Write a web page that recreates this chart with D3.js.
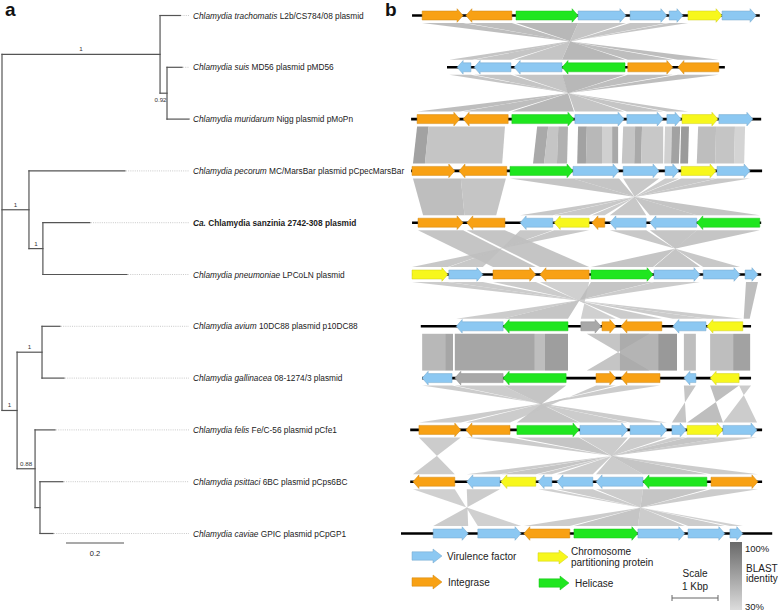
<!DOCTYPE html>
<html><head><meta charset="utf-8">
<script src="https://cdn.jsdelivr.net/npm/d3@7"></script>
<style>body{margin:0;background:#fff}svg{display:block}text{font-family:"Liberation Sans",Arial,sans-serif;fill:#222}</style>
</head><body>
<svg id="c" width="778" height="611"></svg>
<script>
// ---------- DATA ----------
const taxonItalic = ["Chlamydia trachomatis","Chlamydia suis","Chlamydia muridarum","Chlamydia pecorum","Ca.","Chlamydia pneumoniae","Chlamydia avium","Chlamydia gallinacea","Chlamydia felis","Chlamydia psittaci","Chlamydia caviae"];
const taxonRest = [" L2b/CS784/08 plasmid"," MD56 plasmid pMD56"," Nigg plasmid pMoPn"," MC/MarsBar plasmid pCpecMarsBar"," Chlamydia sanzinia 2742-308 plasmid"," LPCoLN plasmid"," 10DC88 plasmid p10DC88"," 08-1274/3 plasmid"," Fe/C-56 plasmid pCfe1"," 6BC plasmid pCps6BC"," GPIC plasmid pCpGP1"];
const boldTaxon = 4;

// tree: branch lengths (substitutions/site), support values
const tree = {len:0, children:[
  {len:0.545, support:"1", children:[
    {len:0.07, leaf:0},
    {len:0.024, support:"0.92", children:[{len:0.052, leaf:1},{len:0.076, leaf:2}]}
  ]},
  {len:0.093, support:"1", children:[
    {len:0.331, leaf:3},
    {len:0.048, support:"1", children:[{len:0.162, leaf:4},{len:0.29, leaf:5}]}
  ]},
  {len:0.052, support:"1", children:[
    {len:0.086, support:"1", children:[{len:0.062, leaf:6},{len:0.076, leaf:7}]},
    {len:0.062, support:"0.88", children:[{len:0.069, leaf:8},
      {len:0.017, children:[{len:0.079, leaf:9},{len:0.045, leaf:10}]}]}
  ]}
]};
const treeScaleBar = 0.2;

// plasmid extents (kb, aligned)
const trackStart = [0.24,1.00,0.22,0.22,0.24,0.24,0.43,0.46,0.20,0.20,0.00];
const trackEnd   = [7.80,7.04,7.83,7.85,7.83,7.83,7.61,7.61,7.85,7.85,8.07];

// genes: [start kb, end kb, strand, type]  V=virulence I=integrase C=chromosome partitioning H=helicase O=other
const trackGenes = [
 [[0.46,1.35,1,"I"],[1.41,2.41,-1,"I"],[2.50,3.85,1,"H"],[3.85,4.89,1,"V"],[4.98,5.78,1,"V"],[5.83,6.13,1,"V"],[6.24,6.98,1,"C"],[6.98,7.72,1,"V"]],
 [[1.22,1.52,-1,"V"],[1.59,2.39,-1,"V"],[2.46,3.50,-1,"V"],[3.50,4.87,-1,"H"],[4.93,5.91,1,"I"],[6.02,6.91,-1,"I"]],
 [[0.35,1.28,1,"I"],[1.35,2.33,-1,"I"],[2.41,3.76,1,"H"],[3.78,4.85,1,"V"],[4.91,5.70,1,"V"],[5.78,6.09,1,"V"],[6.11,6.89,1,"C"],[6.91,7.65,1,"V"]],
 [[0.24,1.17,1,"I"],[1.26,2.30,-1,"I"],[2.37,3.74,1,"H"],[3.74,4.74,1,"V"],[4.83,5.61,1,"V"],[5.74,6.04,1,"V"],[6.09,6.85,1,"C"],[6.87,7.59,1,"V"]],
 [[0.37,1.35,1,"I"],[1.43,2.26,-1,"I"],[2.59,3.30,-1,"V"],[3.33,4.09,-1,"C"],[4.15,4.43,-1,"I"],[4.54,5.33,-1,"V"],[5.41,6.43,-1,"V"],[6.43,7.80,-1,"H"]],
 [[0.24,1.02,1,"C"],[1.04,1.78,1,"V"],[2.00,2.93,1,"I"],[3.02,4.09,-1,"I"],[4.13,5.48,1,"H"],[5.50,6.50,1,"V"],[6.57,7.37,1,"V"],[7.48,7.76,1,"V"]],
 [[1.20,2.22,-1,"V"],[2.22,3.63,-1,"H"],[3.91,4.35,1,"O"],[4.37,4.67,1,"I"],[4.78,5.67,-1,"I"],[5.91,6.63,-1,"V"],[6.65,7.43,-1,"C"]],
 [[0.46,1.11,-1,"V"],[1.17,2.22,-1,"O"],[2.22,3.59,-1,"H"],[4.24,4.67,1,"I"],[4.78,5.63,-1,"I"],[6.15,6.41,-1,"V"],[6.72,7.35,-1,"C"]],
 [[0.39,1.30,1,"I"],[1.41,2.37,-1,"I"],[2.52,3.87,1,"H"],[3.89,4.93,1,"V"],[4.98,5.78,1,"V"],[5.89,6.20,1,"V"],[6.22,7.00,1,"C"],[7.00,7.74,1,"V"]],
 [[0.26,1.17,-1,"I"],[1.43,2.15,-1,"V"],[2.17,2.93,-1,"C"],[2.98,3.28,-1,"V"],[3.39,4.17,-1,"V"],[4.24,5.26,-1,"V"],[5.26,6.65,-1,"H"],[6.74,7.76,1,"I"]],
 [[0.70,1.46,1,"V"],[1.67,2.61,1,"V"],[2.67,3.67,-1,"I"],[3.76,5.15,1,"H"],[5.15,6.17,1,"V"],[6.24,7.04,1,"V"],[7.15,7.43,1,"V"]]
];

// BLAST hits between neighbouring plasmids: [top start, top end, bottom start, bottom end, identity]
const blastHits = [
 [[0.46,1.35,6.91,6.02,0.55],[1.41,2.41,5.91,4.93,0.55],[2.50,3.85,4.87,3.50,0.6],[3.85,4.89,3.50,2.46,0.5],[4.98,5.78,2.39,1.59,0.5],[5.83,6.24,1.55,1.05,0.5]],
 [[1.05,1.52,6.24,5.78,0.5],[1.59,2.39,5.70,4.91,0.5],[2.46,3.50,4.85,3.78,0.5],[3.50,4.87,3.76,2.41,0.6],[4.93,5.91,2.33,1.35,0.55],[6.02,6.91,1.28,0.35,0.55]],
 [[0.35,0.60,0.26,0.52,0.75],[0.60,2.26,0.52,2.20,0.5],[2.96,3.20,2.87,3.11,0.7],[3.20,3.42,3.11,3.39,0.5],[3.42,3.63,3.39,3.61,0.65],
  [3.85,4.04,3.83,4.02,0.75],[4.04,4.37,4.02,4.37,0.6],[4.37,4.59,4.37,4.59,0.42],[4.59,4.72,4.59,4.72,0.7],
  [4.83,5.09,4.80,5.07,0.5],[5.09,5.24,5.07,5.22,0.7],[5.24,5.70,5.22,5.70,0.48],
  [5.74,5.89,5.72,5.87,0.42],[5.89,6.07,5.87,6.04,0.75],[6.09,6.26,6.07,6.24,0.8],
  [6.46,6.85,6.43,6.83,0.55],[6.85,7.26,6.83,7.24,0.5],[7.26,7.48,7.24,7.46,0.4]],
 [[0.26,1.30,0.48,1.38,0.55],[1.30,2.28,1.38,2.07,0.5],[2.37,3.74,7.80,6.43,0.5],[3.74,4.74,6.43,5.41,0.5],[4.83,5.61,5.33,4.54,0.48],[5.74,6.04,4.43,4.15,0.45],[6.09,6.85,4.09,3.33,0.48],[6.87,7.59,3.30,2.59,0.48]],
 [[0.37,1.35,2.00,2.93,0.5],[1.43,2.26,3.02,4.09,0.5],[2.59,3.30,1.78,1.04,0.48],[3.33,4.09,1.02,0.24,0.48],[4.54,5.33,7.37,6.57,0.48],[5.41,6.43,6.50,5.50,0.5],[6.43,7.80,5.48,4.13,0.5]],
 [[0.24,1.02,7.43,6.65,0.45],[1.04,1.78,6.63,5.91,0.45],[2.00,2.93,5.67,4.78,0.45],[3.02,4.09,4.67,3.91,0.42],[4.13,5.48,3.63,2.22,0.5],[5.50,6.50,2.22,1.20,0.45],[7.50,7.76,7.45,7.58,0.55]],
 [[0.46,0.96,0.46,0.96,0.6],[0.96,1.13,0.96,1.13,0.72],[1.17,2.91,1.17,2.91,0.72],[2.91,3.13,2.91,3.13,0.55],[3.13,3.63,3.13,3.63,0.78],
  [4.04,5.40,5.40,4.04,0.5],[4.76,5.59,4.76,5.59,0.62],[5.59,6.00,5.59,6.00,0.82],[6.15,6.41,6.15,6.41,0.55],[6.72,7.22,6.72,7.22,0.55],[7.22,7.59,7.22,7.59,0.75]],
 [[0.46,1.11,5.78,4.98,0.45],[1.17,2.22,4.93,3.89,0.45],[2.22,3.59,3.87,2.52,0.5],[4.24,4.67,2.37,1.41,0.45],[4.78,5.63,1.30,0.39,0.45],[6.15,6.41,6.20,5.89,0.5],[6.72,7.35,7.00,6.22,0.55],[7.35,7.61,7.74,7.00,0.45]],
 [[0.39,1.30,1.17,0.26,0.45],[1.41,2.37,7.76,6.74,0.45],[2.52,3.87,6.65,5.26,0.5],[3.89,4.93,5.26,4.24,0.45],[4.98,5.78,4.17,3.39,0.45],[5.89,6.20,3.28,2.98,0.45],[6.22,7.00,2.93,2.17,0.5],[7.00,7.74,2.15,1.43,0.45]],
 [[0.26,1.17,2.61,1.67,0.42],[1.43,2.15,1.46,0.70,0.45],[2.98,3.28,7.43,7.15,0.42],[3.39,4.17,7.04,6.24,0.45],[4.24,5.26,6.17,5.15,0.45],[5.26,6.65,5.15,3.76,0.5],[6.74,7.76,3.67,2.67,0.45]]
];

const geneTypes = ["V","I","C","H"];
const geneTypeNames = {V:"Virulence factor", I:"Integrase", C:["Chromosome","partitioning protein"], H:"Helicase"};
const geneColors = {V:"#8cc8f2", I:"#f8a114", C:"#f7f71c", H:"#1fe61f", O:"#a8a8a8"};
const identityRange = [0.3, 1.0];
const identityLabels = ["100%","30%"];
const scaleBarKb = 1;

// ---------- DRAW ----------
const svg = d3.select("#c");
const rowY = d3.scaleLinear().domain([0,10]).range([15.5,533.5]);
const treeX = d3.scaleLinear().domain([0,treeScaleBar]).range([2,60]);
const kbX = d3.scaleLinear().domain([0,1]).range([401,447]);
const idColor = d3.scaleLinear().domain(identityRange).range(["#dcdcdc","#696969"]);

// panel letters
svg.append("text").attr("x",5).attr("y",16).attr("font-size",19).attr("font-weight","bold").style("fill","#111").text("a");
svg.append("text").attr("x",385).attr("y",16).attr("font-size",19).attr("font-weight","bold").style("fill","#111").text("b");

// ---- tree ----
const root = d3.hierarchy(tree);
root.eachBefore(n => { n.dl = n.parent ? n.parent.dl + n.data.len : 0; });
root.eachAfter(n => {
  if (n.children) n.y = (n.children[0].y + n.children[n.children.length-1].y)/2;
  else n.y = rowY(n.data.leaf);
});
const gT = svg.append("g").attr("stroke","#555").attr("stroke-width",1.2).attr("stroke-linecap","square");
root.descendants().forEach(n => {
  if (n.parent) gT.append("line").attr("x1",treeX(n.parent.dl)).attr("x2",treeX(n.dl)).attr("y1",n.y).attr("y2",n.y);
  if (n.children) gT.append("line").attr("x1",treeX(n.dl)).attr("x2",treeX(n.dl))
      .attr("y1",n.children[0].y).attr("y2",n.children[n.children.length-1].y);
});
// dotted leaders
root.leaves().forEach(n => {
  svg.append("line").attr("x1",treeX(n.dl)+1).attr("x2",189).attr("y1",n.y).attr("y2",n.y)
    .attr("stroke","#bbb").attr("stroke-width",0.8).attr("stroke-dasharray","1,1.2");
});
// supports
root.descendants().filter(n => n.data.support).forEach(n => {
  const x0 = treeX(n.parent.dl), x1 = treeX(n.dl);
  const short = (x1-x0) < 12;
  svg.append("text").attr("x",(x0+x1)/2 + (short?-3:0)).attr("y", short ? n.y+9 : n.y-3)
    .attr("text-anchor","middle").attr("font-size",6.2).style("fill","#333").text(n.data.support);
});
// leaf labels
root.leaves().forEach(n => {
  const i = n.data.leaf;
  const t = svg.append("text").attr("x",193).attr("y",n.y+3).attr("font-size",8.3);
  if (i === boldTaxon) t.attr("font-weight","bold");
  t.append("tspan").attr("font-style","italic").text(taxonItalic[i]);
  t.append("tspan").text(taxonRest[i]);
});
// tree scale bar
const sbx = 66;
svg.append("line").attr("x1",sbx).attr("x2",sbx + treeX(treeScaleBar)-treeX(0)).attr("y1",543).attr("y2",543)
  .attr("stroke","#555").attr("stroke-width",1.2);
svg.append("text").attr("x",sbx + (treeX(treeScaleBar)-treeX(0))/2).attr("y",556).attr("text-anchor","middle")
  .attr("font-size",7.5).text(String(treeScaleBar));

// ---- BLAST bands ----
const gB = svg.append("g");
blastHits.forEach((hits, p) => {
  const yT = rowY(p) + 7.5, yB = rowY(p+1) - 7.5;
  hits.forEach(h => {
    const [t1,t2,b1,b2,id] = h;
    gB.append("path")
      .attr("d", `M${kbX(t1)},${yT}L${kbX(t2)},${yT}L${kbX(b2)},${yB}L${kbX(b1)},${yB}Z`)
      .attr("fill", idColor(id)).attr("fill-opacity",0.85);
  });
});

// ---- tracks ----
function arrowPath(x1, x2, y, strand, bh, hh, hl) {
  const L = x2 - x1, h = Math.min(hl, L*0.6);
  if (strand > 0) {
    return `M${x1},${y-bh}L${x2-h},${y-bh}L${x2-h},${y-hh}L${x2},${y}L${x2-h},${y+hh}L${x2-h},${y+bh}L${x1},${y+bh}Z`;
  }
  return `M${x2},${y-bh}L${x1+h},${y-bh}L${x1+h},${y-hh}L${x1},${y}L${x1+h},${y+hh}L${x1+h},${y+bh}L${x2},${y+bh}Z`;
}
const gG = svg.append("g");
trackGenes.forEach((genes, i) => {
  const y = rowY(i);
  gG.append("line").attr("x1",kbX(trackStart[i])).attr("x2",kbX(trackEnd[i])).attr("y1",y).attr("y2",y)
    .attr("stroke","#000").attr("stroke-width",2.6);
  genes.forEach(g => {
    const c = geneColors[g[3]];
    gG.append("path").attr("d", arrowPath(kbX(g[0]), kbX(g[1]), y, g[2], 4.5, 6.8, 6))
      .attr("fill", c).attr("stroke", d3.color(c).darker(0.5)).attr("stroke-width",0.5);
  });
});

// ---- legend ----
const legendPos = {V:[412,556], I:[412,582], C:[538,557], H:[539,583]};
geneTypes.forEach(k => {
  const [x,y] = legendPos[k];
  const c = geneColors[k];
  svg.append("path").attr("d", arrowPath(x, x+30, y, 1, 4.2, 7, 9))
    .attr("fill", c).attr("stroke", d3.color(c).darker(0.5)).attr("stroke-width",0.5);
  const nm = geneTypeNames[k];
  if (Array.isArray(nm)) {
    svg.append("text").attr("x",x+33).attr("y",y-2.5).attr("font-size",10).text(nm[0]);
    svg.append("text").attr("x",x+33).attr("y",y+9).attr("font-size",10).text(nm[1]);
  } else {
    svg.append("text").attr("x",x+(k==="V"?35:36)).attr("y",y+3.5).attr("font-size",10).text(nm);
  }
});
// kb scale
const kx0 = 672, kx1 = kx0 + kbX(scaleBarKb) - kbX(0);
svg.append("text").attr("x",(kx0+kx1)/2).attr("y",577).attr("text-anchor","middle").attr("font-size",10).text("Scale");
svg.append("text").attr("x",(kx0+kx1)/2).attr("y",590).attr("text-anchor","middle").attr("font-size",10).text(scaleBarKb + " Kbp");
const gs = svg.append("g").attr("stroke","#666").attr("stroke-width",1);
gs.append("line").attr("x1",kx0).attr("x2",kx1).attr("y1",598).attr("y2",598);
gs.append("line").attr("x1",kx0).attr("x2",kx0).attr("y1",595).attr("y2",601);
gs.append("line").attr("x1",kx1).attr("x2",kx1).attr("y1",595).attr("y2",601);
// identity gradient
const defs = svg.append("defs");
const lg = defs.append("linearGradient").attr("id","idg").attr("x1",0).attr("x2",0).attr("y1",0).attr("y2",1);
lg.append("stop").attr("offset","0%").attr("stop-color",idColor(identityRange[1]));
lg.append("stop").attr("offset","100%").attr("stop-color",idColor(identityRange[0]));
svg.append("rect").attr("x",730).attr("y",542).attr("width",12).attr("height",68).attr("fill","url(#idg)");
svg.append("text").attr("x",745).attr("y",552).attr("font-size",9.5).text(identityLabels[0]);
svg.append("text").attr("x",746).attr("y",572).attr("font-size",10).text("BLAST");
svg.append("text").attr("x",746).attr("y",582).attr("font-size",10).text("identity");
svg.append("text").attr("x",745).attr("y",610).attr("font-size",9.5).text(identityLabels[1]);
</script>
</body></html>
